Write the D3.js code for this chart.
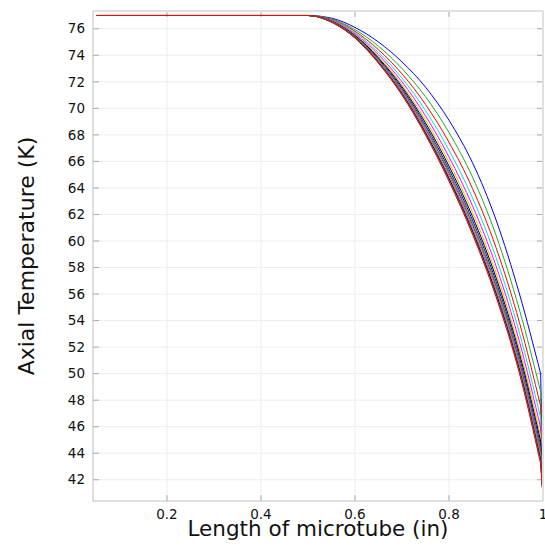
<!DOCTYPE html>
<html>
<head>
<meta charset="utf-8">
<script src="https://cdn.jsdelivr.net/npm/d3@7"></script>
<style>
    body { margin: 0; background: #fff; }
    text { font-family: "DejaVu Sans", sans-serif; }
</style>
</head>
<body>
<div id="chart-area"></div>
<script>

// Length along the microtube (in)
var lengthIn = [0.05, 0.5, 0.55, 0.6, 0.65, 0.7, 0.75, 0.8, 0.85, 0.9, 0.95, 0.995, 1.0];

// Axial temperature (K), one row per run, outer curve first
var temps = [
    [77, 77, 76.8, 76.1, 75.0, 73.5, 71.6, 69.1, 65.9, 61.6, 56.0, 50.0, 41.2],
    [77, 77, 76.74, 75.94, 74.68, 73.0, 70.88, 68.18, 64.82, 60.44, 54.8, 48.64, 41.2],
    [77, 77, 76.69, 75.81, 74.42, 72.6, 70.3, 67.44, 63.96, 59.51, 53.84, 47.55, 41.1],
    [77, 77, 76.65, 75.71, 74.22, 72.28, 69.84, 66.85, 63.25, 58.76, 53.06, 46.67, 41.1],
    [77, 77, 76.62, 75.62, 74.04, 72.0, 69.44, 66.34, 62.66, 58.12, 52.4, 45.92, 41.0],
    [77, 77, 76.59, 75.55, 73.9, 71.78, 69.12, 65.93, 62.17, 57.6, 51.86, 45.31, 41.0],
    [77, 77, 76.58, 75.5, 73.8, 71.63, 68.9, 65.65, 61.85, 57.25, 51.5, 44.9, 41.0],
    [77, 77, 76.56, 75.46, 73.72, 71.5, 68.72, 65.42, 61.58, 56.96, 51.2, 44.56, 41.0],
    [77, 77, 76.55, 75.43, 73.66, 71.4, 68.58, 65.24, 61.36, 56.73, 50.96, 44.29, 40.9],
    [77, 77, 76.54, 75.4, 73.61, 71.33, 68.47, 65.1, 61.2, 56.55, 50.78, 44.08, 40.9],
    [77, 77, 76.53, 75.38, 73.56, 71.25, 68.36, 64.96, 61.04, 56.38, 50.6, 43.88, 40.9],
    [77, 77, 76.52, 75.36, 73.53, 71.2, 68.29, 64.87, 60.93, 56.26, 50.48, 43.74, 40.9],
    [77, 77, 76.52, 75.35, 73.5, 71.15, 68.22, 64.78, 60.82, 56.15, 50.36, 43.61, 40.8],
    [77, 77, 76.51, 75.34, 73.47, 71.11, 68.16, 64.71, 60.74, 56.06, 50.27, 43.51, 40.8],
    [77, 77, 76.51, 75.32, 73.45, 71.08, 68.11, 64.64, 60.66, 55.97, 50.18, 43.4, 40.8],
    [77, 77, 76.5, 75.31, 73.42, 71.04, 68.05, 64.57, 60.58, 55.89, 50.09, 43.3, 40.8],
    [77, 77, 76.5, 75.3, 73.4, 71.0, 68.0, 64.5, 60.5, 55.8, 50.0, 43.2, 40.8]
];

var lineColors = ["#0000ff", "#22aa22", "#ff0000", "#00e0e0", "#ff00ff", "#e6c300", "#000000"];

var xTicks = [0.2, 0.4, 0.6, 0.8, 1];
var yTicks = [42, 44, 46, 48, 50, 52, 54, 56, 58, 60, 62, 64, 66, 68, 70, 72, 74, 76];

var svgW = 545, svgH = 546;
var margin = { left: 93, top: 11 };
var pw = 450, ph = 490;

var svg = d3.select("#chart-area")
    .append("svg")
        .attr("width", svgW)
        .attr("height", svgH);

var g = svg.append("g")
        .attr("transform", "translate(" + margin.left + ", " + margin.top + ")");

// X Scale
var x = d3.scaleLinear()
    .domain([0.0426, 1.0])
    .range([0, pw]);

// Y Scale
var y = d3.scaleLinear()
    .domain([40.399, 77.339])
    .range([ph, 0]);

// Grid
g.selectAll("line.xgrid")
    .data(xTicks)
    .enter().append("line")
        .attr("class", "xgrid")
        .attr("x1", function(d){ return x(d); })
        .attr("x2", function(d){ return x(d); })
        .attr("y1", 0)
        .attr("y2", ph)
        .attr("stroke", "#ededed");

g.selectAll("line.ygrid")
    .data(yTicks)
    .enter().append("line")
        .attr("class", "ygrid")
        .attr("x1", 0)
        .attr("x2", pw)
        .attr("y1", function(d){ return y(d); })
        .attr("y2", function(d){ return y(d); })
        .attr("stroke", "#ededed");

// Inner ticks on all four sides
var tk = 6;
xTicks.forEach(function(d) {
    g.append("line").attr("x1", x(d)).attr("x2", x(d)).attr("y1", ph).attr("y2", ph - tk).attr("stroke", "#aaa");
    g.append("line").attr("x1", x(d)).attr("x2", x(d)).attr("y1", 0).attr("y2", tk).attr("stroke", "#aaa");
});
yTicks.forEach(function(d) {
    g.append("line").attr("x1", 0).attr("x2", tk).attr("y1", y(d)).attr("y2", y(d)).attr("stroke", "#aaa");
    g.append("line").attr("x1", pw).attr("x2", pw - tk).attr("y1", y(d)).attr("y2", y(d)).attr("stroke", "#aaa");
});

// Lines: smooth part, then the drop at the tip
var smooth = d3.line()
    .x(function(d){ return x(d[0]); })
    .y(function(d){ return y(d[1]); })
    .curve(d3.curveMonotoneX);

var straight = d3.line()
    .x(function(d){ return x(d[0]); })
    .y(function(d){ return y(d[1]); });

var runs = g.selectAll("g.run")
    .data(temps)
    .enter().append("g")
        .attr("class", "run")
        .attr("fill", "none")
        .attr("stroke", function(d, i){ return lineColors[i % lineColors.length]; })
        .attr("stroke-width", 1);

runs.append("path")
    .attr("d", function(d){
        var pts = d.map(function(v, i){ return [lengthIn[i], v]; });
        return smooth(pts.slice(0, pts.length - 1));
    });

runs.append("path")
    .attr("d", function(d){
        var pts = d.map(function(v, i){ return [lengthIn[i], v]; });
        return straight(pts.slice(pts.length - 2));
    });

// Frame
g.append("line").attr("x1", 0).attr("x2", pw).attr("y1", 0).attr("y2", 0).attr("stroke", "#e0e0e0").attr("stroke-width", 2);
g.append("line").attr("x1", pw).attr("x2", pw).attr("y1", 0).attr("y2", ph).attr("stroke", "#e0e0e0").attr("stroke-width", 2);
g.append("line").attr("x1", 0).attr("x2", 0).attr("y1", 0).attr("y2", ph + 0.5).attr("stroke", "#c0c0c0");
g.append("line").attr("x1", 0).attr("x2", pw).attr("y1", ph).attr("y2", ph).attr("stroke", "#c0c0c0");

// Tick labels
g.selectAll("text.xtick")
    .data(xTicks)
    .enter().append("text")
        .attr("class", "xtick")
        .attr("x", function(d){ return x(d); })
        .attr("y", ph + 18)
        .attr("font-size", "13.5px")
        .attr("fill", "#111")
        .attr("text-anchor", "middle")
        .text(function(d){ return d; });

g.selectAll("text.ytick")
    .data(yTicks)
    .enter().append("text")
        .attr("class", "ytick")
        .attr("x", -8)
        .attr("y", function(d){ return y(d); })
        .attr("dy", "0.35em")
        .attr("font-size", "13.5px")
        .attr("fill", "#111")
        .attr("text-anchor", "end")
        .text(function(d){ return d; });

// X Label
g.append("text")
    .attr("x", pw / 2)
    .attr("y", ph + 35)
    .attr("font-size", "21.5px")
    .attr("fill", "#111")
    .attr("text-anchor", "middle")
    .text("Length of microtube (in)");

// Y Label
g.append("text")
    .attr("x", -(ph / 2))
    .attr("y", -59)
    .attr("font-size", "22px")
    .attr("fill", "#111")
    .attr("text-anchor", "middle")
    .attr("transform", "rotate(-90)")
    .text("Axial Temperature (K)");

</script>
</body>
</html>
